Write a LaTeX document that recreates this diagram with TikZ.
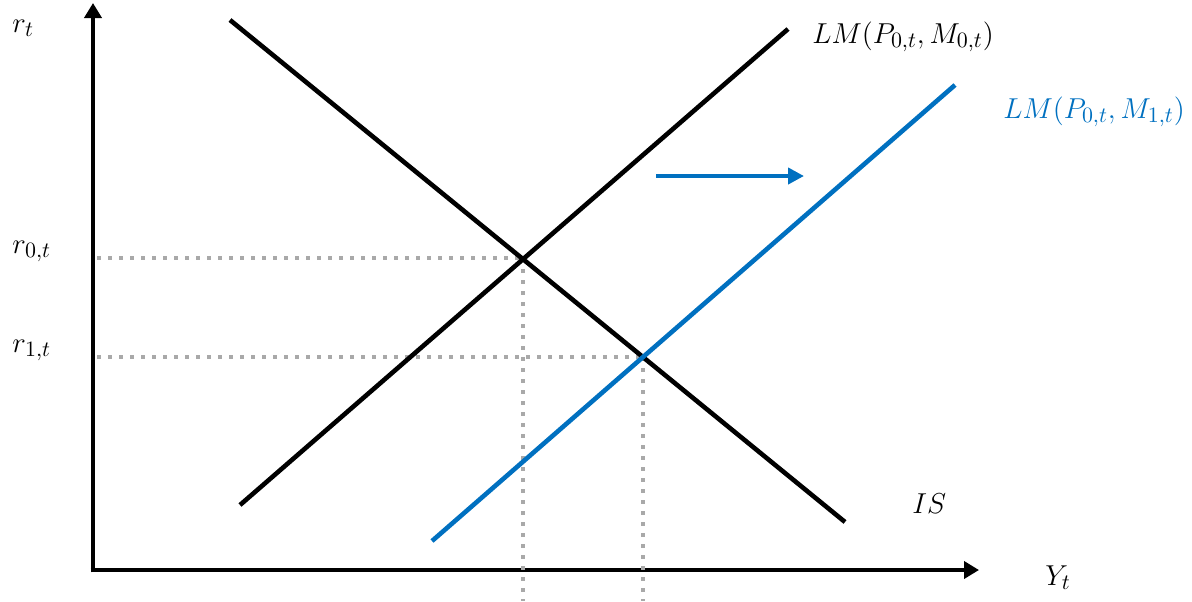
\documentclass[tikz,border=0pt]{standalone}
\usetikzlibrary{arrows.meta}
\definecolor{lmblue}{HTML}{0070C0}
\definecolor{dotgray}{HTML}{A9A9A9}
\begin{document}
\begin{tikzpicture}[x=0.5pt,y=-0.5pt,
  axisline/.style={line width=2.3pt,black,-{Triangle[length=7.5pt,width=8.5pt]}},
  curve/.style={line width=2.3pt},
  guide/.style={line width=2pt,dotgray,dash pattern=on 2pt off 3.5pt},
  lbl/.style={anchor=base west,inner sep=0pt,font=\fontsize{15}{17}\selectfont}]
\useasboundingbox (0,0) rectangle (1192,601);
% axes
\coordinate (O) at (93,570);
\coordinate (ytop) at (93,3);
\coordinate (xend) at (979,570);
\draw[axisline] ([yshift=-1.15pt]O) -- (ytop);
\draw[axisline] ([xshift=-1.15pt]O) -- (xend);
% curve endpoints
\coordinate (is1) at (230,20);
\coordinate (is2) at (845,522);
\coordinate (lma1) at (240,505);
\coordinate (lma2) at (788,29);
\coordinate (lmb1) at (432,541);
\coordinate (lmb2) at (955,85);
% equilibria
\coordinate (E0) at (523,258);
\coordinate (E1) at (643,357);
\coordinate (yl0) at (97,258);
\coordinate (yl1) at (97,357);
\coordinate (xb0) at (523,601);
\coordinate (xb1) at (643,601);
% guides
\draw[guide] (yl0) -- (E0);
\draw[guide] (E0) -- (xb0);
\draw[guide] (yl1) -- (E1);
\draw[guide] (E1) -- (xb1);
% curves
\draw[curve] (is1) -- (is2);
\draw[curve] (lma1) -- (lma2);
\draw[curve,lmblue] (lmb1) -- (lmb2);
% shift arrow
\coordinate (sa) at (656,176);
\coordinate (sb) at (804,176);
\draw[line width=2pt,lmblue,-{Triangle[length=8pt,width=8pt]}] (sa) -- (sb);
% labels
\node[lbl] (rt) at (12,32) {$r_t$};
\node[lbl] (r0) at (12,253) {$r_{0,t}$};
\node[lbl] (r1) at (12,352) {$r_{1,t}$};
\node[lbl] (yt) at (1045,585) {$Y_t$};
\node[lbl] (islbl) at (912,513) {$IS$};
\node[lbl] (lm0) at (812,43) {$LM(P_{0,t},M_{0,t})$};
\node[lbl,text=lmblue] (lm1) at (1003,118) {$LM(P_{0,t},M_{1,t})$};
\end{tikzpicture}
\end{document}
